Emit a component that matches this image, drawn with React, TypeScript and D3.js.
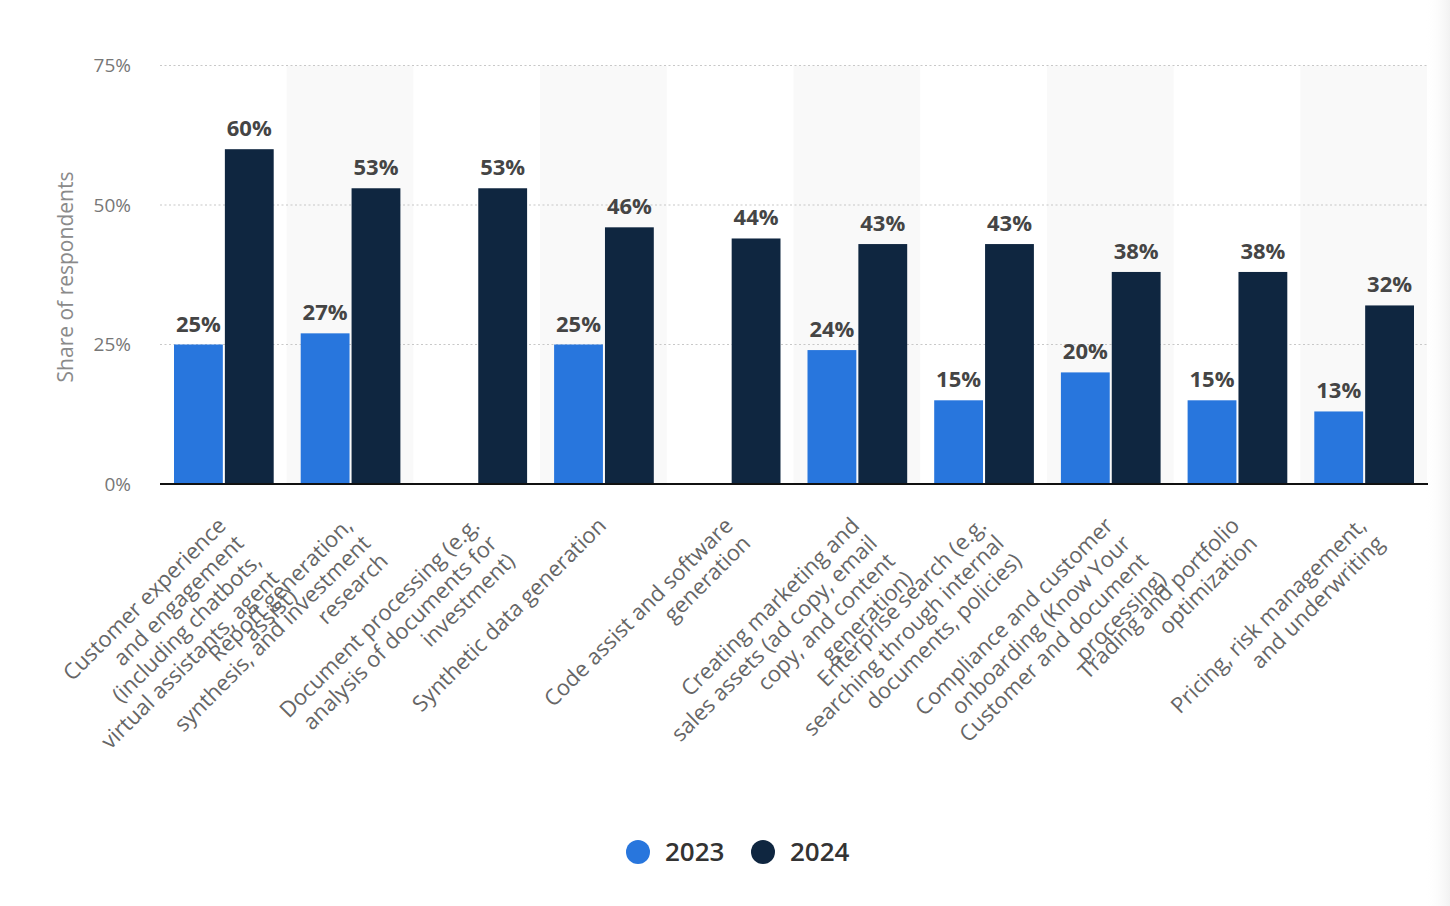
import React from "react";
import * as d3 from "d3";

const categories: string[][] = [
  ["Customer experience", "and engagement", "(including chatbots,", "virtual assistants, agent", "assist)"],
  ["Report generation,", "synthesis, and investment", "research"],
  ["Document processing (e.g.", "analysis of documents for", "investment)"],
  ["Synthetic data generation"],
  ["Code assist and software", "generation"],
  ["Creating marketing and", "sales assets (ad copy, email", "copy, and content", "generation)"],
  ["Enterprise search (e.g.", "searching through internal", "documents, policies)"],
  ["Compliance and customer", "onboarding (Know Your", "Customer and document", "processing)"],
  ["Trading and portfolio", "optimization"],
  ["Pricing, risk management,", "and underwriting"],
];
const values2023: (number | null)[] = [25, 27, null, 25, null, 24, 15, 20, 15, 13];
const values2024: number[] = [60, 53, 53, 46, 44, 43, 43, 38, 38, 32];
const seriesNames = ["2023", "2024"];
const seriesColors = ["#2876dd", "#0f2640"];
const yTicks = [0, 25, 50, 75];

const W = 1450;
const H = 906;
const left = 160;
const right = 1427;
const top = 65.5;
const bottom = 484;
const FONT = "'Open Sans', 'Noto Sans', sans-serif";

export default function App() {
  const x = d3.scaleBand<number>().domain(d3.range(categories.length)).range([left, right]);
  const inner = d3.scaleBand<number>().domain([0, 1]).range([14, x.bandwidth() - 13]).paddingInner(0.04);
  const y = d3.scaleLinear().domain([0, 75]).range([bottom, top]);
  const series = [values2023, values2024];

  return (
    <svg width={W} height={H} style={{ position: "absolute", left: 0, top: 0, background: "#fff" }} fontFamily={FONT}>
      <defs>
        <linearGradient id="edge" x1="0" x2="1" y1="0" y2="0">
          <stop offset="0" stopColor="#fff" stopOpacity="0" />
          <stop offset="1" stopColor="#f2f2f2" stopOpacity="1" />
        </linearGradient>
      </defs>
      <rect x={1425} y={0} width={25} height={H} fill="url(#edge)" />
      {categories.map((_, i) =>
        i % 2 === 1 ? (
          <rect key={"band" + i} x={x(i)} y={top} width={x.bandwidth()} height={bottom - top} fill="#f9f9f9" />
        ) : null
      )}
      {yTicks.filter((t) => t > 0).map((t) => (
        <line key={"g" + t} x1={left} x2={right} y1={y(t)} y2={y(t)} stroke="#c8c8c8" strokeWidth={1.2} strokeDasharray="2,2.5" />
      ))}
      {yTicks.map((t) => (
        <text key={"t" + t} x={131} y={y(t)} dy="0.35em" textAnchor="end" fontSize={19} fill="#777">
          {t + "%"}
        </text>
      ))}
      <text transform={`translate(73,277) rotate(-90)`} textAnchor="middle" fontSize={21} fill="#8a8a8a">
        Share of respondents
      </text>
      {series.map((vals, s) =>
        vals.map((v, i) =>
          v == null ? null : (
            <g key={`b${s}-${i}`}>
              <rect x={(x(i) as number) + (inner(s) as number)} y={y(v)} width={inner.bandwidth()} height={bottom - y(v)} fill={seriesColors[s]} />
              <text x={(x(i) as number) + (inner(s) as number) + inner.bandwidth() / 2} y={y(v) - 13} textAnchor="middle" fontSize={22} fontWeight={700} fill="#454545">
                {v + "%"}
              </text>
            </g>
          )
        )
      )}
      <line x1={left} x2={right + 1} y1={bottom} y2={bottom} stroke="#111" strokeWidth={2} />
      {categories.map((lines, i) => {
        const cx = (x(i) as number) + x.bandwidth() / 2 + 4;
        return (
          <text key={"c" + i} transform={`translate(${cx},${527}) rotate(-45)`} textAnchor="end" fontSize={22} fill="#666">
            {lines.map((l, j) => (
              <tspan key={j} x={0} dy={j === 0 ? 0 : 25}>
                {l}
              </tspan>
            ))}
          </text>
        );
      })}
      {seriesNames.map((n, s) => (
        <g key={"l" + s} transform={`translate(${638 + s * 125},852)`}>
          <circle r={12} fill={seriesColors[s]} />
          <text x={27} dy="0.35em" fontSize={26} fontWeight={600} fill="#333">
            {n}
          </text>
        </g>
      ))}
    </svg>
  );
}
